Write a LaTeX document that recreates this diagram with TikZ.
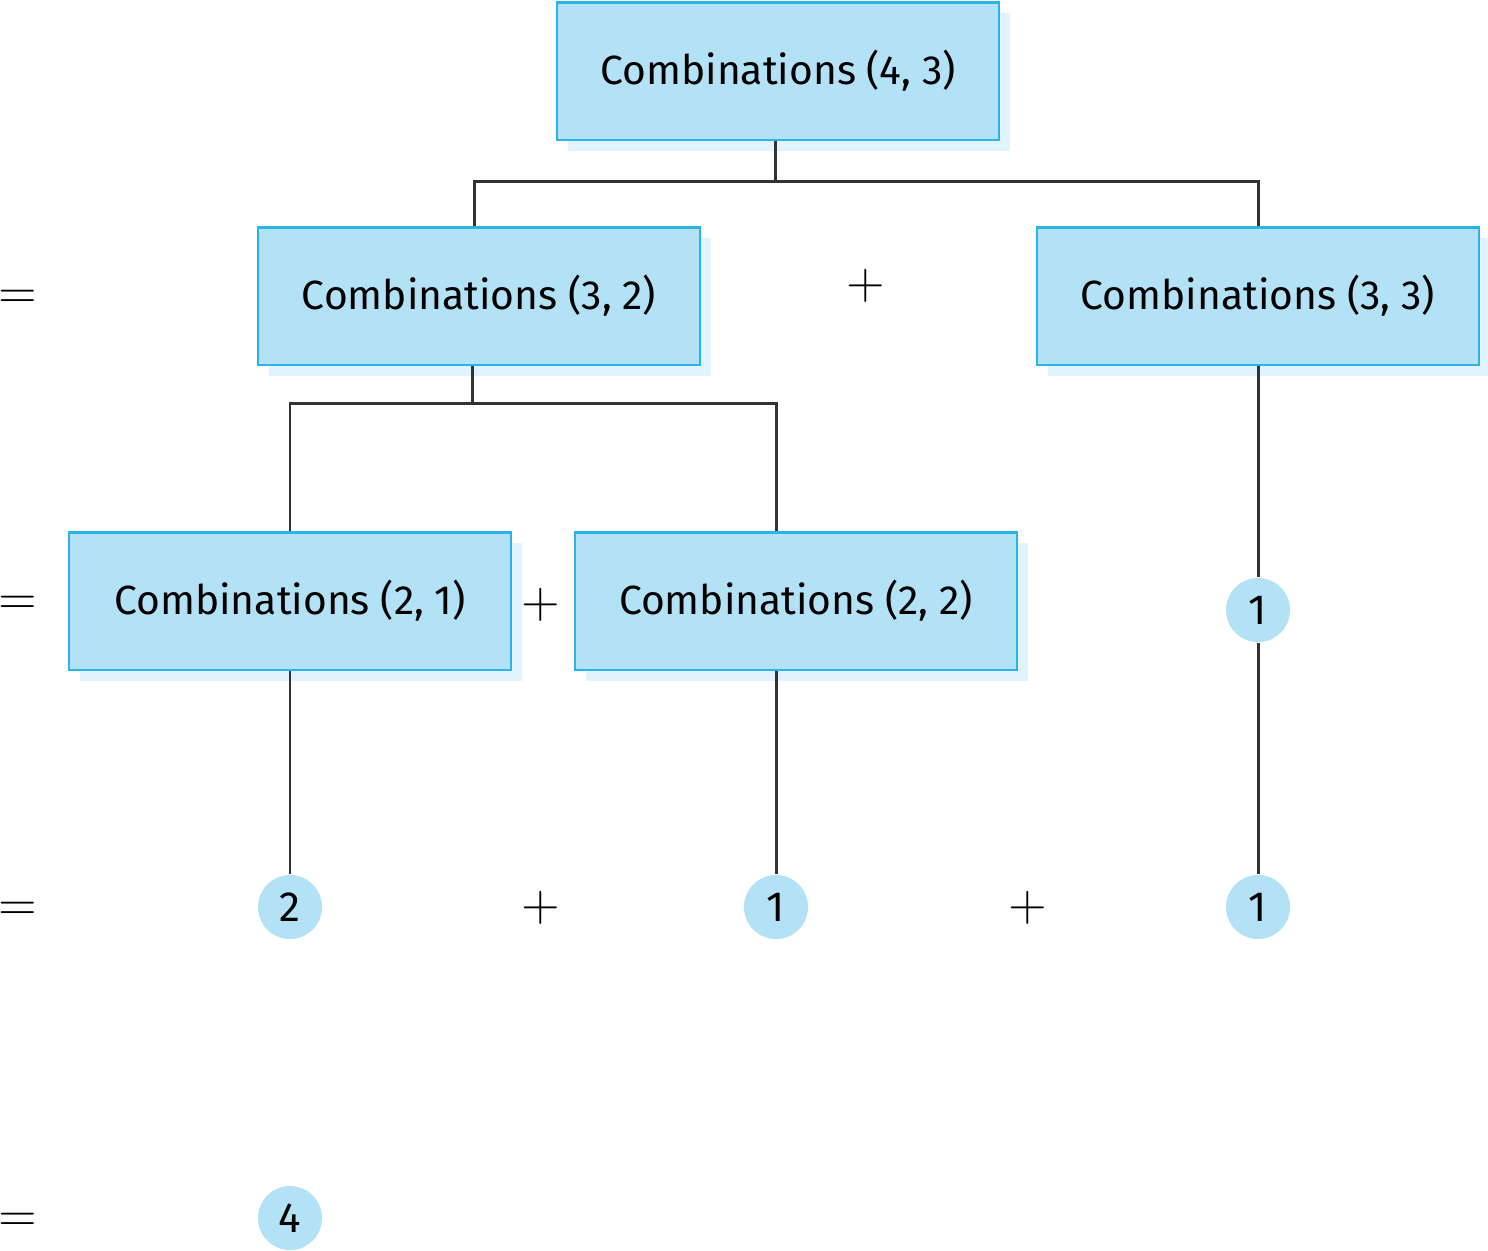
\documentclass[tikz,border=0pt]{standalone}
\usepackage{fontspec}
\setmainfont{Fira Sans}
\usetikzlibrary{shadows}
\definecolor{boxfill}{HTML}{B3E1F6}
\definecolor{boxline}{HTML}{2AB4E8}
\definecolor{boxshade}{HTML}{E1F3FC}
\definecolor{wire}{HTML}{333333}
\tikzset{
  combo/.style={draw=boxline, line width=0.6pt, fill=boxfill, minimum width=4.41cm,
    minimum height=1.37cm, inner sep=0pt, font=\fontsize{11.6}{14}\selectfont,
    general shadow={fill=boxshade, shadow xshift=0.11cm, shadow yshift=-0.11cm}},
  val/.style={circle, fill=boxfill, minimum size=0.64cm, inner sep=0pt,
    font=\fontsize{12}{14}\selectfont},
  sign/.style={font=\fontsize{14.5}{17}\selectfont, inner sep=0pt},
  link/.style={draw=wire, line width=0.85pt}
}
\begin{document}
\begin{tikzpicture}[x=0.01cm, y=-0.01cm]
      \useasboundingbox (0,0) rectangle (1488,1250);
      \draw
        (778,71) node[combo] (c43){Combinations (4, 3)}
        (479,296) node[combo] (c32){Combinations (3, 2)}
        (1258,296) node[combo] (c33){Combinations (3, 3)}
        (290,601) node[combo] (c21){Combinations (2, 1)}
        (796,601) node[combo] (c22){Combinations (2, 2)};
      \draw
        (1258,610) node[val] (v33){1}
        (290,907) node[val] (v21){2}
        (776,907) node[val] (v22){1}
        (1258,907) node[val] (v33b){1}
        (290,1218) node[val] (sum){4};
      \draw
        (18,299) node[sign] (eq1){$=$}
        (18,605) node[sign] (eq2){$=$}
        (18,911) node[sign] (eq3){$=$}
        (18,1222) node[sign] (eq4){$=$}
        (866,286) node[sign] (p1){$+$}
        (541,605) node[sign] (p2){$+$}
        (541,908) node[sign] (p3){$+$}
        (1028,908) node[sign] (p4){$+$};
      \coordinate (j1) at (775,181);
      \coordinate (j2) at (472,403);
      \begin{scope}[link]
        \draw (c43.south -| j1) -- (j1);
        \draw (c32.north -| 474,0) |- (j1) -| (c33.north);
        \draw (c32.south -| j2) -- (j2);
        \draw (c21.north) |- (j2) -| (c22.north -| v22);
        \draw (c33) -- (v33);
        \draw (v33) -- (v33b);
        \draw (c21) -- (v21);
        \draw (c22.south -| v22) -- (v22);
      \end{scope}
    \end{tikzpicture}
\end{document}
